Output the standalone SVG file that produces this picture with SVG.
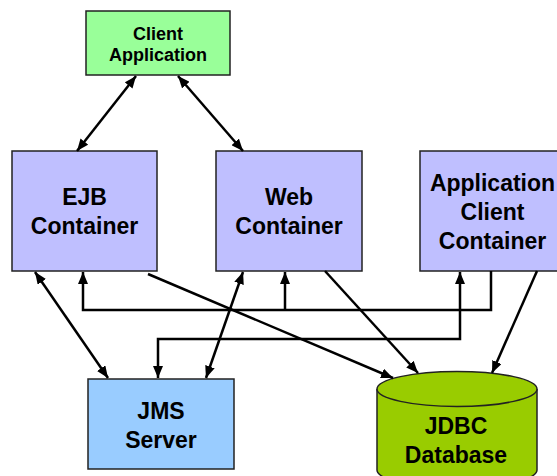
<svg xmlns="http://www.w3.org/2000/svg" width="557" height="476" viewBox="0 0 557 476">
<style>
.box{stroke:#222;stroke-width:1.5}
.cont{fill:#BFBFFF}
.lbl{font-family:"Liberation Sans",Arial,sans-serif;font-weight:bold;fill:#000;text-anchor:middle}
.big{font-size:23px}
.small{font-size:18px}
.conn{fill:none;stroke:#000;stroke-width:2.5;stroke-linecap:butt;stroke-linejoin:miter}
</style>
<defs>
<marker id="ah" markerUnits="userSpaceOnUse" markerWidth="12" markerHeight="10" refX="12" refY="5" orient="auto-start-reverse" viewBox="0 0 12 10">
<path d="M0,0 L12,5 L0,10 z" fill="#000"/>
</marker>
</defs>
<rect width="557" height="476" fill="#fff"/>
<g id="client-application">
<rect class="box" x="86" y="11" width="144" height="64" fill="#99FF99"/>
<text class="lbl small" x="158" y="40">Client</text>
<text class="lbl small" x="158" y="61">Application</text>
</g>
<g id="ejb-container">
<rect class="box cont" x="12" y="151" width="145" height="120"/>
<text class="lbl big" x="84.5" y="205">EJB</text>
<text class="lbl big" x="84.5" y="234">Container</text>
</g>
<g id="web-container">
<rect class="box cont" x="216" y="151" width="146" height="120"/>
<text class="lbl big" x="289" y="205">Web</text>
<text class="lbl big" x="289" y="234">Container</text>
</g>
<g id="app-client-container">
<rect class="box cont" x="420" y="151" width="145" height="120"/>
<text class="lbl big" x="492.5" y="191">Application</text>
<text class="lbl big" x="492.5" y="220">Client</text>
<text class="lbl big" x="492.5" y="249">Container</text>
</g>
<g id="jms-server">
<rect class="box" x="88" y="379" width="146" height="90" fill="#99CCFF"/>
<text class="lbl big" x="161" y="419">JMS</text>
<text class="lbl big" x="161" y="448">Server</text>
</g>
<g id="jdbc-database">
<path d="M377,389 V470 A80,17.5 0 0 0 537,470 V389" fill="#99CC00" stroke="#222" stroke-width="1.5"/>
<ellipse cx="457" cy="389" rx="80" ry="17.5" fill="#99CC00" stroke="#222" stroke-width="1.5"/>
<text class="lbl big" x="456" y="434">JDBC</text>
<text class="lbl big" x="456" y="463">Database</text>
</g>
<g id="connectors">
<path class="conn" d="M136,76 L77,151" marker-start="url(#ah)" marker-end="url(#ah)"/>
<path class="conn" d="M178,76 L243,151" marker-start="url(#ah)" marker-end="url(#ah)"/>
<path class="conn" d="M35,272 L108,378" marker-start="url(#ah)" marker-end="url(#ah)"/>
<path class="conn" d="M491,271 V310 H83 V272" marker-end="url(#ah)"/>
<path class="conn" d="M285,310 V272" marker-end="url(#ah)"/>
<path class="conn" d="M158,378 V339 H460 V272" marker-start="url(#ah)" marker-end="url(#ah)"/>
<path class="conn" d="M243,272 L206,378" marker-start="url(#ah)" marker-end="url(#ah)"/>
<path class="conn" d="M148,274 L393,378" marker-end="url(#ah)"/>
<path class="conn" d="M325,271 L418,373" marker-end="url(#ah)"/>
<path class="conn" d="M537,271 L492,373" marker-end="url(#ah)"/>
</g>
</svg>
